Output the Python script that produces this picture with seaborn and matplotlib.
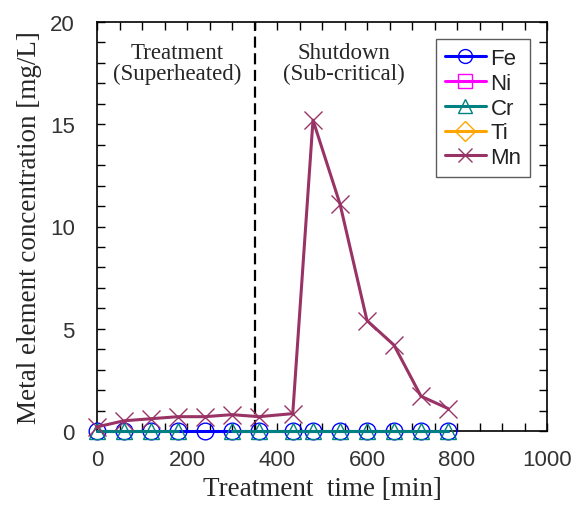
import numpy as np
import pandas as pd
import seaborn as sns
import matplotlib
matplotlib.use("Agg")
import matplotlib.pyplot as plt
from matplotlib.lines import Line2D
from matplotlib.ticker import MultipleLocator

sns.set_style("ticks")
plt.rcParams["font.family"] = ["Liberation Sans", "DejaVu Sans"]

# ---- data ----
time_min = [0, 60, 120, 180, 240, 300, 360, 435, 480, 540, 600, 660, 720, 780]
fe = [0, 0, 0, 0, 0, 0, 0, 0, 0, 0, 0, 0, 0, 0]
ni = [np.nan] * 14
cr = [0, 0, 0, 0, np.nan, 0, 0, 0, 0, 0, 0, 0, 0, 0]
ti = [np.nan] * 14
mn = [0.2, 0.5, 0.6, 0.7, 0.7, 0.8, 0.7, 0.85, 15.2, 11.1, 5.4, 4.2, 1.7, 1.1]

series_names = ["Fe", "Ni", "Cr", "Ti", "Mn"]
series_values = [fe, ni, cr, ti, mn]
colors = {"Fe": "#0000FF", "Ni": "#FF00FF", "Cr": "#008080", "Ti": "#FFA500", "Mn": "#993366"}
markers = {"Fe": "o", "Ni": "s", "Cr": "^", "Ti": "D", "Mn": "x"}
msizes = {"Fe": 12, "Ni": 11, "Cr": 12, "Ti": 9, "Mn": 13}

phase_labels = ["Treatment\n(Superheated)", "Shutdown\n(Sub-critical)"]
phase_x = [178, 549]
switch_time = 352

fig = plt.figure(figsize=(5.74, 5.10), dpi=100)
ax = fig.add_subplot(111)
fig.subplots_adjust(left=97/574, right=547/574, bottom=1-432/510, top=1-23/510)

handles = []
for name, vals in zip(series_names, series_values):
    c = colors[name]
    style = dict(color=c, linewidth=2.2, marker=markers[name], markersize=msizes[name],
                 markerfacecolor="none", markeredgecolor=c, markeredgewidth=1.0)
    arr = np.array(vals, dtype=float)
    if np.any(~np.isnan(arr)):
        # draw segments so missing values break the line
        df = pd.DataFrame({"t": time_min, "v": arr})
        seg = (df["v"].isna()).cumsum()
        for _, sub in df[df["v"].notna()].groupby(seg[df["v"].notna()]):
            sns.lineplot(data=sub, x="t", y="v", ax=ax, clip_on=False, zorder=3,
                         **style)
    handles.append(Line2D([], [], label=name, **{**style, "markersize": 10}))

ax.axvline(switch_time, color="black", linestyle=(0, (5, 2.5)), linewidth=1.6, zorder=2)

for lab, xp in zip(phase_labels, phase_x):
    ax.text(xp, 18.0, lab, ha="center", va="center", fontsize=16.5,
            family=["Liberation Serif"], linespacing=0.95)

ax.set_xlim(0, 1000)
ax.set_ylim(0, 20)
ax.xaxis.set_major_locator(MultipleLocator(200))
ax.xaxis.set_minor_locator(MultipleLocator(50))
ax.yaxis.set_major_locator(MultipleLocator(5))
ax.yaxis.set_minor_locator(MultipleLocator(1))
ax.tick_params(which="both", direction="in", top=True, right=True, length=6, width=1,
               color="black")
ax.tick_params(axis="x", which="major", labelsize=16, pad=13)
ax.tick_params(axis="y", which="major", labelsize=16, pad=16)
for lbl in ax.get_xticklabels() + ax.get_yticklabels():
    lbl.set_color("#333333")

ax.set_xlabel("Treatment  time [min]", fontsize=19.5, family=["Liberation Serif"], labelpad=4)
ax.set_ylabel("Metal element concentration [mg/L]", fontsize=19.5,
              family=["Liberation Serif"], labelpad=6)

for sp in ax.spines.values():
    sp.set_linewidth(1.2)
    sp.set_color("black")

leg = ax.legend(handles=handles, loc="upper right", bbox_to_anchor=(0.963, 0.958),
                fontsize=16, frameon=True, fancybox=False, handlelength=1.85,
                handletextpad=0.2, labelspacing=0.17, borderpad=0.4, borderaxespad=0)
leg.get_frame().set_edgecolor("#333333")
leg.get_frame().set_linewidth(1.0)
for t in leg.get_texts():
    t.set_color("#222222")

fig.savefig("out.png", dpi=100)
